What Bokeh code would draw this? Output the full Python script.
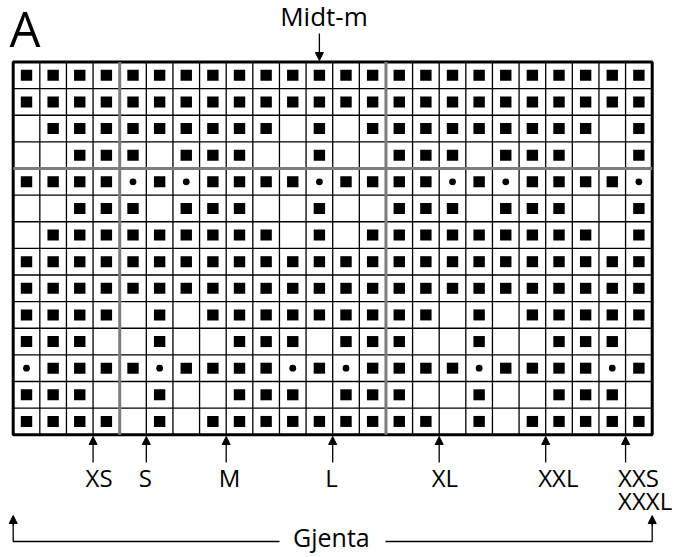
from bokeh.plotting import figure
from bokeh.models import Range1d, Arrow, NormalHead
from bokeh.core.properties import value
from bokeh.embed import file_html
from bokeh.resources import INLINE

# ---- chart data ----
# X = filled square, o = dot, . = empty cell ; top row first
rows = [
    "XXXXXXXXXXXXXXXXXXXXXXXX",
    "XXXXXXXXXXXXXXXXXXXXXXXX",
    ".XXXXXXXXX.X.XXXXXXXXX.X",
    "..XXX.XXX..X..XXX.XXX..X",
    "XXXXoXoXXXXoXXXXoXoXXXXo",
    "..XXX.XXX..X..XXX.XXX..X",
    ".XXXXXXXXX.X.XXXXXXXXX.X",
    "XXXXXXXXXXXXXXXXXXXXXXXX",
    "XXXXXXXXXXXXXXXXXXXXXXXX",
    "XXXX.X.XXXXXXXXX.X.XXXXX",
    "XXX..X..XXX.XXX..X..XXX.",
    "oXXXXoXXXXoXoXXXXoXXXXoX",
    "XXX..X..XXX.XXX..X..XXX.",
    "XXXX.X.XXXXXXXXX.X.XXXXX",
]
divider_cols = [4, 14]          # grey vertical dividers (column boundaries)
divider_rows = [4]              # grey horizontal divider (row boundary)
size_labels = ["XS", "S", "M", "L", "XL", "XXL", "XXS\nXXXL"]
size_cols = [3, 5, 8, 12, 16, 20, 23]   # column boundary each size arrow points at
mid_col = 11                    # centre stitch column (0-based) for "Midt-m"
title = "A"
mid_label = "Midt-m"
repeat_label = "Gjenta"

ncols = len(rows[0])
nrows = len(rows)

# ---- geometry (screen pixels -> data units) ----
W, H = 678, 557
OX, OY = 0, 0                    # where the figure lands in the screenshot
X0, Y0, CELL = 12.7, 61.5, 26.625
BASE = 0.45                      # baseline correction (fraction of font size)


def ux(px):
    return (px - X0) / CELL


def uy(py):
    return (py - Y0) / CELL


def ty(py, size):
    # text baseline in screen px -> data y, with renderer correction
    return uy(py - BASE * size)


p = figure(width=W, height=H, output_backend="svg", toolbar_location=None,
           x_range=Range1d(ux(OX), ux(OX + W)),
           y_range=Range1d(uy(OY + H), uy(OY)),
           min_border=0, x_axis_type=None, y_axis_type=None)
p.grid.visible = False
p.outline_line_color = None
p.background_fill_color = "white"
p.border_fill_color = "white"

FONT = value("Open Sans")

# thin grid lines
vx = list(range(ncols + 1))
p.segment(x0=vx, y0=[0] * len(vx), x1=vx, y1=[nrows] * len(vx),
          line_color="black", line_width=1.3)
hy = list(range(nrows + 1))
p.segment(x0=[0] * len(hy), y0=hy, x1=[ncols] * len(hy), y1=hy,
          line_color="black", line_width=1.3)

# outer border
p.rect(x=[ncols / 2], y=[nrows / 2], width=ncols, height=nrows,
       fill_color=None, line_color="black", line_width=3)

# grey dividers
p.segment(x0=divider_cols, y0=[0] * len(divider_cols), x1=divider_cols,
          y1=[nrows] * len(divider_cols), line_color="#7d7d7d", line_width=3)
p.segment(x0=[0] * len(divider_rows), y0=divider_rows,
          x1=[ncols] * len(divider_rows), y1=divider_rows,
          line_color="#7d7d7d", line_width=3)

# symbols
sq_x, sq_y, dot_x, dot_y = [], [], [], []
for r, row in enumerate(rows):
    for c, ch in enumerate(row):
        if ch == "X":
            sq_x.append(c + 0.5)
            sq_y.append(r + 0.5)
        elif ch == "o":
            dot_x.append(c + 0.5)
            dot_y.append(r + 0.5)
p.rect(x=sq_x, y=sq_y, width=11.4 / CELL, height=11.0 / CELL,
       fill_color="black", line_color=None)
p.circle(x=dot_x, y=dot_y, radius=3.4 / CELL, fill_color="black", line_color=None)


def arrow(x0, y0, x1, y1):
    p.add_layout(Arrow(end=NormalHead(size=8, fill_color="black", line_color="black",
                                      line_width=1),
                       x_start=x0, y_start=y0, x_end=x1, y_end=y1,
                       line_color="black", line_width=1.3))


# title "A"
p.text(x=[ux(9)], y=[ty(49.5, 49)], text=[title], text_font=FONT,
       text_font_size="49px", text_align="left", text_baseline="alphabetic",
       text_color="black")

# Midt-m
p.text(x=[ux(323.5)], y=[ty(27.5, 26)], text=[mid_label], text_font=FONT,
       text_font_size="26px", text_align="center", text_baseline="alphabetic",
       text_color="black")
arrow(mid_col + 0.5, uy(33), mid_col + 0.5, uy(60))

# size arrows & labels
lx, ly, lt = [], [], []
for lab, c in zip(size_labels, size_cols):
    arrow(c, uy(462), c, uy(436))
    for k, part in enumerate(lab.split("\n")):
        lx.append(c)
        ly.append(ty(487.5 + 23 * k, 24))
        lt.append(part)
p.text(x=lx, y=ly, text=lt, text_font=FONT, text_font_size="24px",
       text_align="left", text_baseline="alphabetic", x_offset=-7.5,
       text_color="black")

# repeat bracket
yb = uy(541)
p.line(x=[0, 0, ux(279)], y=[uy(520), yb, yb], line_color="black", line_width=1.3)
p.line(x=[ux(385), ncols, ncols], y=[yb, yb, uy(520)], line_color="black", line_width=1.3)
arrow(0, uy(525), 0, uy(515))
arrow(ncols, uy(525), ncols, uy(515))
p.text(x=[ncols / 2 - 0.05], y=[ty(548, 25)], text=[repeat_label], text_font=FONT,
       text_font_size="25px", text_align="center", text_baseline="alphabetic",
       text_color="black")

open("out.html", "w").write(file_html(p, INLINE))
